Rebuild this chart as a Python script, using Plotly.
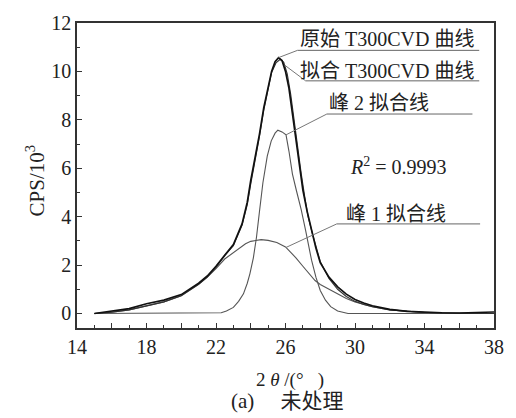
import numpy as np
import plotly.graph_objects as go

# ---- data (2θ in degrees, CPS/10^3) ----
orig_x = [15, 16, 17, 18, 19, 20, 21, 21.5, 22, 22.5, 23, 23.5, 23.8, 24, 24.25, 24.5, 24.75, 25,
          25.2, 25.4, 25.6, 25.8, 26.0, 26.2, 26.4, 26.6, 26.8, 27, 27.25, 27.5, 27.75, 28,
          28.5, 29, 29.5, 30, 30.5, 31, 32, 33, 34, 35, 36, 37, 38]
orig_y = [0.0, 0.1, 0.2, 0.4, 0.55, 0.78, 1.25, 1.55, 1.95, 2.4, 2.85, 3.7, 4.6, 5.5, 6.4, 7.4, 8.5, 9.4,
          10.0, 10.4, 10.57, 10.45, 10.0, 9.3, 8.2, 7.1, 6.1, 5.1, 4.2, 3.45, 2.7, 2.1,
          1.5, 1.1, 0.8, 0.58, 0.43, 0.32, 0.17, 0.09, 0.05, 0.03, 0.02, 0.03, 0.06]

fit_x = [15, 16, 17, 18, 19, 20, 21, 21.5, 22, 22.5, 23, 23.5, 23.8, 24, 24.25, 24.5, 24.75, 25,
         25.2, 25.45, 25.7, 25.9, 26.1, 26.3, 26.5, 26.7, 26.9, 27.1, 27.3, 27.55, 27.8, 28,
         28.5, 29, 29.5, 30, 30.5, 31, 32, 33, 34, 36, 38]
fit_y = [0.0, 0.05, 0.15, 0.3, 0.48, 0.73, 1.2, 1.5, 1.9, 2.4, 2.8, 3.65, 4.5, 5.35, 6.3, 7.3, 8.4, 9.3,
         9.95, 10.35, 10.5, 10.38, 9.9, 9.05, 7.9, 6.8, 5.8, 4.85, 4.0, 3.3, 2.6, 2.15,
         1.45, 1.0, 0.7, 0.5, 0.37, 0.28, 0.15, 0.08, 0.04, 0.01, 0.0]

p2_x = [15, 20, 22, 22.3, 22.6, 23, 23.3, 23.58, 23.8, 23.95, 24.15, 24.33, 24.5, 24.7, 24.95,
        25.18, 25.4, 25.56, 25.8, 26.03, 26.2, 26.4, 26.63, 26.9, 27.16, 27.5, 27.75, 28,
        28.3, 28.6, 29, 29.6, 32, 38]
p2_y = [0.0, 0.0, 0.0, 0.03, 0.1, 0.25, 0.5, 0.81, 1.25, 1.64, 2.3, 3.15, 4.2, 5.4, 6.5,
        7.13, 7.45, 7.57, 7.5, 7.38, 6.7, 5.76, 5.07, 4.3, 3.42, 2.2, 1.5, 0.95,
        0.55, 0.28, 0.1, 0.0, 0.0, 0.0]

p1_x = [15, 16, 17, 18, 19, 20, 21, 21.5, 22, 22.5, 23, 23.4, 23.7, 24, 24.3, 24.6, 25, 25.5, 26,
        26.6, 27, 27.35, 27.7, 28, 28.5, 29, 29.5, 30, 30.5, 31, 32, 33, 34, 36, 38]
p1_y = [0.0, 0.05, 0.15, 0.3, 0.48, 0.73, 1.2, 1.5, 1.85, 2.25, 2.52, 2.73, 2.88, 2.98, 3.03, 3.05,
        3.02, 2.93, 2.75, 2.3, 1.95, 1.65, 1.36, 1.2, 1.0, 0.8, 0.62, 0.48, 0.37, 0.28, 0.15,
        0.08, 0.04, 0.01, 0.0]

labels = ["原始 T300CVD 曲线", "拟合 T300CVD 曲线", "峰 2 拟合线", "峰 1 拟合线"]
r2_text = "<i>R</i><sup>2</sup> = 0.9993"

x_ticks = [14, 18, 22, 26, 30, 34, 38]
y_ticks = [0, 2, 4, 6, 8, 10, 12]

SERIF = "Liberation Serif, Noto Sans CJK SC, serif"
NB = "\u00a0"

fig = go.Figure()
fig.add_trace(go.Scatter(x=p1_x, y=p1_y, mode="lines", line=dict(color="#555", width=1.1),
                         name=labels[3]))
fig.add_trace(go.Scatter(x=p2_x, y=p2_y, mode="lines", line=dict(color="#555", width=1.1),
                         name=labels[2]))
fig.add_trace(go.Scatter(x=fit_x, y=fit_y, mode="lines", line=dict(color="#333", width=1.1),
                         name=labels[1]))
fig.add_trace(go.Scatter(x=orig_x, y=orig_y, mode="lines", line=dict(color="#111", width=1.7),
                         name=labels[0]))

# leader-line targets taken from the data
i_pk = int(np.argmax(orig_y))
t1 = (orig_x[i_pk], orig_y[i_pk])
t2 = (25.95, float(np.interp(25.95, fit_x, fit_y)))
t3 = (26.03, float(np.interp(26.03, p2_x, p2_y)))
t4 = (26.03, float(np.interp(26.03, p1_x, p1_y)))

# label layout: (text left x, text y, underline y, underline x0, underline x1, target)
label_layout = [
    (26.72, 11.33, 10.87, 26.69, 37.15, t1),
    (26.72, 10.02, 9.61, 27.16, 37.15, t2),
    (28.4, 8.68, 8.24, 28.38, 36.76, t3),
    (29.35, 4.1, 3.70, 28.95, 37.2, t4),
]
shapes = []
annotations = []
for txt, (tx, ty, uy, ux0, ux1, tgt) in zip(labels, label_layout):
    annotations.append(dict(x=tx, y=ty, xref="x", yref="y", text=txt, showarrow=False,
                            xanchor="left", yanchor="middle",
                            font=dict(family=SERIF, size=20, color="#222")))
    shapes.append(dict(type="line", xref="x", yref="y", x0=ux0, y0=uy, x1=ux1, y1=uy,
                       line=dict(color="#666", width=1)))
    shapes.append(dict(type="line", xref="x", yref="y", x0=ux0, y0=uy, x1=tgt[0], y1=tgt[1],
                       line=dict(color="#777", width=1)))

annotations.append(dict(x=32.5, y=6.1, xref="x", yref="y", text=r2_text, showarrow=False,
                        font=dict(family=SERIF, size=20, color="#222")))
annotations.append(dict(x=-0.136, y=0.483, xref="paper", yref="paper", text="CPS/10<sup>3</sup>",
                        textangle=-90, showarrow=False, font=dict(family=SERIF, size=21, color="#222")))
annotations.append(dict(x=0.51, y=-0.172, xref="paper", yref="paper",
                        text="2" + NB + "<i>θ</i>" + NB + "/(°" + NB * 3 + ")",
                        showarrow=False, yanchor="middle", font=dict(family=SERIF, size=19, color="#222")))
annotations.append(dict(x=0.505, y=-0.24, xref="paper", yref="paper", text="(a)" + NB * 5 + "未处理",
                        showarrow=False, yanchor="middle", font=dict(family=SERIF, size=21, color="#222")))

axis_common = dict(showgrid=False, zeroline=False, showline=True, linecolor="#333", linewidth=1.5,
                   mirror=True, ticks="inside", tickcolor="#333", tickwidth=1,
                   tickfont=dict(family=SERIF, size=20, color="#222"))

fig.update_layout(
    width=516, height=418,
    margin=dict(l=77, r=14, t=22, b=90),
    paper_bgcolor="white", plot_bgcolor="white",
    showlegend=False,
    shapes=shapes, annotations=annotations,
    xaxis=dict(range=[14, 38], tick0=14, dtick=2, ticklabelstep=2, ticklen=5,
               minor=dict(dtick=1, ticks="inside", ticklen=3, tickcolor="#333"), **axis_common),
    yaxis=dict(range=[-0.6, 12], tickvals=y_ticks, ticklen=5,
               minor=dict(dtick=1, ticks="inside", ticklen=3, tickcolor="#333"), **axis_common),
)

fig.write_html("out.html", config={"displayModeBar": False},
               post_script="document.body.style.margin='0';")
